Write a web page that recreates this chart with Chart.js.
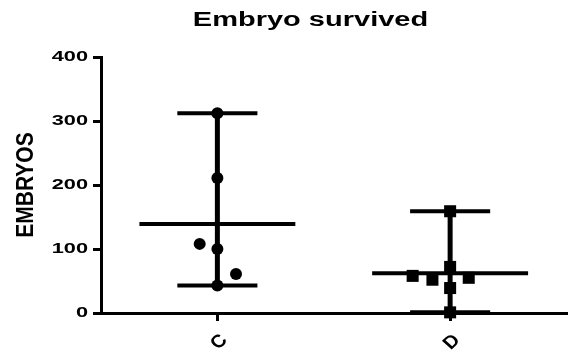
<!DOCTYPE html>
<html>
<head>
<meta charset="utf-8">
<script src="https://cdn.jsdelivr.net/npm/chart.js@4/dist/chart.umd.min.js"></script>
<style>
  html, body { margin: 0; padding: 0; background: #ffffff; }
  #wrap { width: 575px; height: 352px; }
</style>
</head>
<body>
<div id="wrap"><canvas id="c" width="575" height="352"></canvas></div>
<script>
// ---- data ----
const chartTitle = 'Embryo survived';
const yAxisTitle = 'EMBRYOS';
const groups = ['C', 'D'];
const valuesC = [312, 211, 108, 100, 61, 43];
const valuesD = [159, 72, 58, 52, 55, 39, 1];
const yTicks = [0, 100, 200, 300, 400];

// ---- layout (horizontal scatter of the dots, in category units) ----
const jitterC = [0, 0, -0.076, 0, 0.08, 0];
const jitterD = [0, 0, -0.161, -0.076, 0.08, 0, 0];
const MEAN_HALF = 0.335;
const CAP_HALF = 0.172;
const TEXT_STRETCH = 1.45;
const ROTATED_TEXT_STRETCH = 1.12;

const canvas = document.getElementById('c');
const ctx = canvas.getContext('2d');
// The reference figure is horizontally stretched; stretch text the same way.
const nativeFill = CanvasRenderingContext2D.prototype.fillText;
ctx.fillText = function (text, x, y, maxWidth) {
  const m = this.getTransform();
  const px = m.a * x + m.c * y + m.e;
  const py = m.b * x + m.d * y + m.f;
  const sx = Math.abs(m.b) > 1e-6 ? ROTATED_TEXT_STRETCH : TEXT_STRETCH;
  this.save();
  this.setTransform(1, 0, 0, 1, 0, 0);
  this.translate(px, py);
  this.scale(sx, 1);
  this.translate(-px, -py);
  this.transform(m.a, m.b, m.c, m.d, m.e, m.f);
  nativeFill.call(this, text, x, y);
  this.restore();
};

function mean(a) { return a.reduce((s, v) => s + v, 0) / a.length; }

function groupDatasets(values, jitter, gi, style, radius) {
  const cx = gi + 0.5;
  const lo = Math.min(...values), hi = Math.max(...values), mu = mean(values);
  const line = (pts, w) => ({
    type: 'line', data: pts, borderColor: '#000', borderWidth: w,
    pointRadius: 0, showLine: true, fill: false, clip: false, order: 2
  });
  return [
    line([{x: cx - MEAN_HALF, y: mu}, {x: cx + MEAN_HALF, y: mu}], 4),
    line([{x: cx - CAP_HALF, y: hi}, {x: cx + CAP_HALF, y: hi}], 4),
    line([{x: cx - CAP_HALF, y: lo}, {x: cx + CAP_HALF, y: lo}], 4),
    line([{x: cx, y: lo}, {x: cx, y: hi}], 5),
    {
      type: 'scatter',
      data: values.map((v, i) => ({x: cx + jitter[i], y: v})),
      pointStyle: style, pointRadius: radius, pointBackgroundColor: '#000',
      pointBorderColor: '#000', pointBorderWidth: 0, clip: false, order: 1
    }
  ];
}

const datasets = [
  ...groupDatasets(valuesC, jitterC, 0, 'circle', 6),
  ...groupDatasets(valuesD, jitterD, 1, 'rect', 8.5)
];

const shiftTitle = {
  id: 'shiftTitle',
  afterLayout(chart) {
    if (chart.titleBlock) { chart.titleBlock.left = 48; }
  }
};

new Chart(ctx, {
  type: 'scatter',
  data: { datasets },
  plugins: [shiftTitle],
  options: {
    responsive: false,
    animation: false,
    events: [],
    layout: { padding: { top: 0, right: 2, bottom: 0, left: 0 } },
    plugins: {
      legend: { display: false },
      tooltip: { enabled: false },
      title: {
        display: true,
        text: chartTitle,
        color: '#000',
        font: { family: 'Liberation Sans, Arial, sans-serif', size: 20, weight: 'bold', lineHeight: 1.2 },
        padding: { top: 8, bottom: 25 }
      }
    },
    scales: {
      x: {
        type: 'linear',
        min: 0,
        max: groups.length,
        afterBuildTicks: (s) => { s.ticks = groups.map((g, i) => ({ value: i + 0.5 })); },
        afterFit: (s) => { s.height = 39; },
        ticks: {
          color: '#000',
          minRotation: 45,
          maxRotation: 45,
          padding: 9,
          labelOffset: 7,
          autoSkip: false,
          font: { family: 'Liberation Sans, Arial, sans-serif', size: 18, weight: 'bold' },
          callback: (v) => groups[Math.round(v - 0.5)]
        },
        grid: { display: true, drawOnChartArea: false, drawTicks: true, tickLength: 8, color: '#000', lineWidth: 3 },
        border: { display: true, color: '#000', width: 3 }
      },
      y: {
        type: 'linear',
        min: yTicks[0],
        max: yTicks[yTicks.length - 1],
        afterBuildTicks: (s) => { s.ticks = yTicks.map(v => ({ value: v })); },
        afterFit: (s) => { s.width = 101; },
        ticks: {
          color: '#000',
          padding: 5,
          font: { family: 'Liberation Sans, Arial, sans-serif', size: 15, weight: 'bold' }
        },
        title: {
          display: true,
          text: yAxisTitle,
          color: '#000',
          padding: { top: 14, bottom: 0 },
          font: { family: 'Liberation Sans, Arial, sans-serif', size: 21, weight: 'bold', lineHeight: 1.2 }
        },
        grid: { display: true, drawOnChartArea: false, drawTicks: true, tickLength: 8, color: '#000', lineWidth: 3 },
        border: { display: true, color: '#000', width: 3 }
      }
    }
  }
});
</script>
</body>
</html>
